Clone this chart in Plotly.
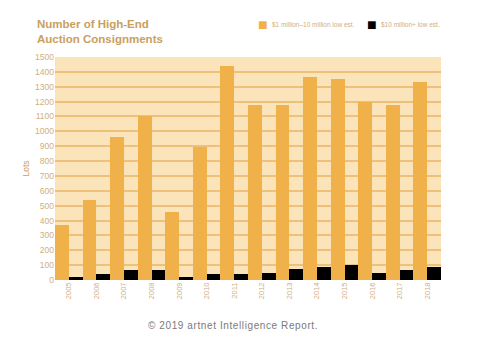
import plotly.graph_objects as go

years = ["2005", "2006", "2007", "2008", "2009", "2010", "2011", "2012",
         "2013", "2014", "2015", "2016", "2017", "2018"]
lots_1m_10m = [372, 540, 962, 1103, 458, 898, 1440, 1178, 1178, 1368, 1355, 1200, 1178, 1332]
lots_10m_plus = [19, 40, 67, 67, 20, 43, 43, 49, 76, 87, 99, 45, 65, 87]
y_ticks = list(range(0, 1501, 100))

ORANGE = "#F0B14B"
LIGHT = "#FBE3BA"
GRID = "#EEC07A"
TAN = "#CFAF7E"
TITLE = "#C9A05D"

fig = go.Figure()
fig.add_trace(go.Bar(x=years, y=lots_1m_10m, name="$1 million–10 million low est.",
                     marker=dict(color=ORANGE, line=dict(width=0))))
fig.add_trace(go.Bar(x=years, y=lots_10m_plus, name="$10 million+ low est.",
                     marker=dict(color="#000000", line=dict(width=0))))

fig.update_layout(
    width=500, height=349,
    margin=dict(l=55, r=59, t=57, b=69),
    paper_bgcolor="white",
    plot_bgcolor=LIGHT,
    barmode="group", bargap=0, bargroupgap=0,
    showlegend=False,
    font=dict(family="Liberation Sans, Arial, sans-serif", color=TAN),
    xaxis=dict(tickangle=-90, tickfont=dict(size=7.5, color=TAN), showgrid=False,
               ticks="", showline=False, zeroline=False),
    yaxis=dict(range=[0, 1500], tickvals=y_ticks, tickfont=dict(size=8.5, color=TAN),
               gridcolor=GRID, gridwidth=2, zeroline=False, ticks="",
               title=dict(text="Lots", font=dict(size=8.5, color=TITLE), standoff=4)),
)

fig.add_annotation(xref="paper", yref="paper", x=(35-55)/386, y=1 + (57-16)/223,
                   xanchor="left", yanchor="top", align="left", showarrow=False,
                   text="<b>Number of High-End<br>Auction Consignments</b>",
                   font=dict(size=11.5, color=TITLE, family="Liberation Sans, Arial, sans-serif"))

LEG_Y = 1 + (57-24)/223
fig.add_annotation(xref="paper", yref="paper", x=(256-55)/386, y=LEG_Y,
                   xanchor="left", yanchor="middle", showarrow=False,
                   text="<span style='color:%s'>■</span>" % ORANGE, font=dict(size=16))
fig.add_annotation(xref="paper", yref="paper", x=(270-55)/386, y=LEG_Y,
                   xanchor="left", yanchor="middle", showarrow=False,
                   text="$1 million–10 million low est.", font=dict(size=6.5, color=TAN))
fig.add_annotation(xref="paper", yref="paper", x=(365-55)/386, y=LEG_Y,
                   xanchor="left", yanchor="middle", showarrow=False,
                   text="<span style='color:#000'>■</span>", font=dict(size=16))
fig.add_annotation(xref="paper", yref="paper", x=(379-55)/386, y=LEG_Y,
                   xanchor="left", yanchor="middle", showarrow=False,
                   text="$10 million+ low est.", font=dict(size=6.5, color=TAN))

fig.add_annotation(xref="paper", yref="paper", x=(233-55)/386, y=-(325-280)/223,
                   xanchor="center", yanchor="middle", showarrow=False,
                   text="<span style='letter-spacing:0.6px'>© 2019 artnet Intelligence Report.</span>",
                   font=dict(size=10, color="#7a7a7a"))

fig.write_html("out.html")
